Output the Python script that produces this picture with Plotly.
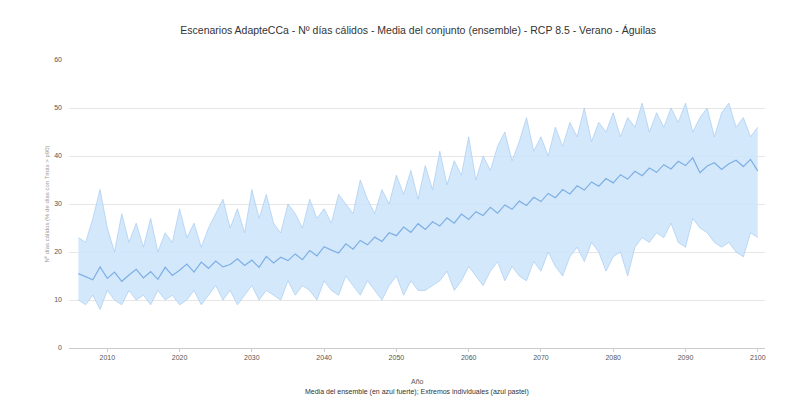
import plotly.graph_objects as go

years = list(range(2006, 2101))

mean_vals = [
    15.5, 14.8, 14.2, 16.9, 14.5, 15.8, 13.9, 15.2, 16.4, 14.6,
    15.9, 14.3, 16.8, 15.1, 16.2, 17.5, 15.8, 17.9, 16.6, 18.1,
    16.9, 17.4, 18.6, 17.2, 18.3, 16.8, 19.1, 17.7, 18.9, 18.2,
    19.6, 18.4, 20.3, 19.2, 21.1, 20.4, 19.8, 21.7, 20.6, 22.4,
    21.5, 23.1, 22.2, 24.0, 23.4, 25.2, 24.1, 25.9, 24.7, 26.3,
    25.4, 27.1, 26.0, 27.9, 26.8, 28.4, 27.6, 29.3, 28.1, 29.8,
    28.9, 30.6, 29.7, 31.4, 30.5, 32.2, 31.3, 33.0, 32.1, 33.8,
    32.9, 34.6, 33.7, 35.3, 34.4, 36.1, 35.2, 36.8, 35.9, 37.5,
    36.6, 38.2, 37.3, 38.9, 38.0, 39.6, 36.5, 37.9, 38.6, 37.2,
    38.4, 39.1, 37.8, 39.3, 36.9,
]

max_vals = [
    23, 22, 27, 33, 25, 20, 28, 22, 26, 21,
    27, 20, 24, 22, 29, 23, 26, 21, 25, 28,
    31, 25, 29, 24, 33, 27, 32, 26, 24, 30,
    28, 25, 31, 27, 29, 26, 32, 30, 28, 35,
    31, 28, 33, 30, 36, 32, 37, 31, 38, 33,
    41, 34, 39, 36, 44, 35, 40, 37, 42, 45,
    39, 43, 48, 41, 44, 40, 46, 42, 47, 44,
    50, 43, 47, 45, 49, 44, 48, 46, 51, 45,
    49, 46, 50, 47, 51, 45, 48, 50, 44, 49,
    51, 46, 48, 44, 46,
]

min_vals = [
    10, 9, 11, 8, 12, 10, 9, 12, 10, 11,
    9, 12, 10, 11, 9, 10, 12, 9, 11, 13,
    10, 12, 9, 11, 13, 10, 12, 11, 10, 14,
    11, 13, 12, 10, 14, 12, 11, 15, 13, 11,
    14, 12, 10, 13, 15, 11, 14, 12, 12, 13,
    14, 16, 12, 14, 17, 15, 13, 16, 18, 14,
    17, 15, 14, 18, 16, 20, 17, 15, 19, 21,
    18, 22, 20, 16, 19, 20, 15, 21, 23, 22,
    24, 23, 26, 22, 21, 27, 25, 24, 22, 21,
    22, 20, 19, 24, 23,
]

y_ticks = [0, 10, 20, 30, 40, 50, 60]
x_ticks = [2010, 2020, 2030, 2040, 2050, 2060, 2070, 2080, 2090, 2100]

title_text = "Escenarios AdapteCCa - Nº días cálidos - Media del conjunto (ensemble) - RCP 8.5 - Verano - Águilas"
x_title = "Año"
y_title = "Nº días cálidos (% de días con Tmáx > p90)"
note_text = "Media del ensemble (en azul fuerte); Extremos individuales (azul pastel)"

fig = go.Figure()
fig.add_trace(go.Scatter(
    x=years, y=max_vals, mode="lines",
    line=dict(color="rgba(160,200,240,0.9)", width=0.7),
    showlegend=False, hoverinfo="skip"))
fig.add_trace(go.Scatter(
    x=years, y=min_vals, mode="lines", fill="tonexty",
    fillcolor="rgba(205,228,250,0.85)",
    line=dict(color="rgba(160,200,240,0.9)", width=0.7),
    showlegend=False, hoverinfo="skip"))
fig.add_trace(go.Scatter(
    x=years, y=mean_vals, mode="lines",
    line=dict(color="rgb(125,175,228)", width=1.2),
    showlegend=False))

fig.update_layout(
    width=795, height=417,
    margin=dict(l=61, r=38, t=52, b=77),
    paper_bgcolor="white", plot_bgcolor="white",
    font=dict(family="Liberation Sans, Arial, sans-serif", size=8, color="#555"),
    title=dict(text=title_text, x=0.516, xanchor="center", y=0.928, yanchor="middle",
               font=dict(size=10.5, color="#333")),
    xaxis=dict(range=[2004.7, 2101], tickvals=x_ticks, showgrid=False,
               showline=True, linecolor="#ccc", linewidth=1,
               ticks="outside", ticklen=3, tickcolor="#ccc",
               tickfont=dict(size=7, color="#555"), zeroline=False),
    yaxis=dict(range=[0, 60], tickvals=y_ticks, showgrid=True, gridcolor="#e6e6e6",
               gridwidth=1, zeroline=False, showline=False,
               tickfont=dict(size=7, color="#555"), ticklen=0, ticks="",
               ticklabelstandoff=6,
               title=dict(text=y_title, font=dict(size=6, color="#999"), standoff=4)),
    annotations=[
        dict(text=x_title, x=0.5, xref="paper", y=-0.136, yref="paper",
             showarrow=False, font=dict(size=7, color="#555")),
        dict(text=note_text, x=0.5, xref="paper", y=-0.174, yref="paper",
             showarrow=False, font=dict(size=7, color="#333")),
    ],
)
fig.update_layout(title_y=0.947)

fig.write_html("out.html")
